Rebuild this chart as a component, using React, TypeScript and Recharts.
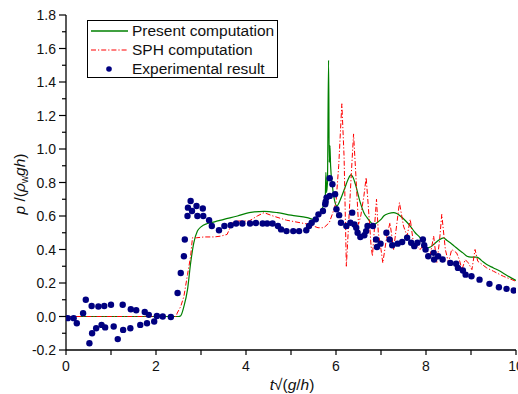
import React from 'react';
import { ComposedChart, Line, Scatter, XAxis, YAxis, Legend } from 'recharts';

const FONT = '"Liberation Sans", Arial, sans-serif';

const presentT = [0, 2.5, 2.55, 2.62, 2.7, 2.77, 2.84, 2.92, 3.0, 3.14, 3.3, 3.51, 3.81, 4.07, 4.4, 4.7, 5.0, 5.36, 5.51, 5.6, 5.68, 5.76, 5.775, 5.79, 5.81, 5.835, 5.85, 5.865, 5.88, 5.92, 5.97, 6.02, 6.1, 6.2, 6.27, 6.33, 6.38, 6.43, 6.54, 6.62, 6.69, 6.78, 6.85, 6.91, 7.0, 7.06, 7.17, 7.28, 7.35, 7.43, 7.55, 7.65, 7.76, 7.87, 7.95, 8.02, 8.1, 8.17, 8.28, 8.39, 8.46, 8.54, 8.63, 8.72, 8.82, 8.91, 9.0, 9.13, 9.23, 9.35, 9.5, 9.65, 9.8, 10.0];
const presentP = [0, 0, 0.005, 0.06, 0.16, 0.32, 0.44, 0.51, 0.535, 0.555, 0.565, 0.58, 0.6, 0.62, 0.628, 0.62, 0.605, 0.59, 0.58, 0.6, 0.64, 0.69, 0.86, 0.74, 0.8, 1.53, 0.92, 1.02, 0.9, 0.78, 0.69, 0.66, 0.7, 0.77, 0.82, 0.845, 0.83, 0.79, 0.68, 0.62, 0.59, 0.56, 0.55, 0.56, 0.58, 0.6, 0.615, 0.62, 0.615, 0.6, 0.57, 0.54, 0.5, 0.47, 0.435, 0.41, 0.415, 0.43, 0.455, 0.47, 0.455, 0.44, 0.42, 0.4, 0.38, 0.36, 0.355, 0.355, 0.335, 0.31, 0.29, 0.27, 0.245, 0.215];

const sphT = [0, 2.45, 2.47, 2.55, 2.62, 2.7, 2.77, 2.81, 2.9, 3.07, 3.3, 3.44, 3.58, 3.63, 3.68, 3.81, 4.07, 4.25, 4.4, 4.6, 4.9, 5.2, 5.4, 5.6, 5.73, 5.85, 5.93, 6.0, 6.06, 6.13, 6.18, 6.23, 6.28, 6.34, 6.39, 6.44, 6.5, 6.55, 6.62, 6.67, 6.72, 6.78, 6.81, 6.86, 6.9, 6.94, 7.0, 7.04, 7.13, 7.2, 7.28, 7.35, 7.41, 7.5, 7.58, 7.65, 7.72, 7.8, 7.87, 7.95, 8.02, 8.09, 8.17, 8.24, 8.3, 8.35, 8.43, 8.5, 8.57, 8.68, 8.74, 8.8, 8.87, 8.94, 9.02, 9.09, 9.15, 9.2, 9.35, 9.5, 9.72, 10.0];
const sphP = [0, 0, 0.02, 0.06, 0.12, 0.25, 0.36, 0.47, 0.47, 0.475, 0.475, 0.48, 0.49, 0.52, 0.56, 0.57, 0.57, 0.6, 0.62, 0.6, 0.575, 0.56, 0.55, 0.53, 0.53, 0.56, 0.62, 0.68, 0.9, 1.27, 0.95, 0.3, 0.55, 0.85, 1.09, 0.85, 0.55, 0.6, 0.72, 0.83, 0.65, 0.42, 0.36, 0.55, 0.7, 0.5, 0.4, 0.32, 0.48, 0.56, 0.4, 0.55, 0.68, 0.54, 0.48, 0.58, 0.44, 0.42, 0.4, 0.43, 0.4, 0.36, 0.48, 0.32, 0.45, 0.61, 0.4, 0.32, 0.4, 0.38, 0.34, 0.28, 0.34, 0.32, 0.28, 0.4, 0.33, 0.32, 0.29, 0.27, 0.24, 0.21];

const expT = [0.04, 0.17, 0.24, 0.38, 0.44, 0.52, 0.57, 0.58, 0.67, 0.72, 0.79, 0.85, 0.87, 1.0, 1.06, 1.15, 1.26, 1.27, 1.43, 1.44, 1.56, 1.65, 1.75, 1.8, 1.84, 1.96, 2.02, 2.15, 2.33, 2.48, 2.55, 2.62, 2.64, 2.7, 2.71, 2.77, 2.8, 2.9, 2.92, 3.04, 3.05, 3.18, 3.24, 3.4, 3.52, 3.66, 3.78, 3.92, 4.09, 4.22, 4.37, 4.47, 4.59, 4.71, 4.78, 4.9, 5.05, 5.18, 5.34, 5.4, 5.46, 5.55, 5.61, 5.71, 5.76, 5.77, 5.79, 5.86, 5.86, 5.92, 5.98, 6.01, 6.07, 6.11, 6.23, 6.32, 6.36, 6.41, 6.45, 6.48, 6.54, 6.63, 6.67, 6.7, 6.82, 6.89, 6.91, 6.99, 7.12, 7.19, 7.25, 7.37, 7.47, 7.58, 7.67, 7.74, 7.81, 7.93, 7.96, 7.99, 8.05, 8.17, 8.18, 8.27, 8.37, 8.54, 8.67, 8.71, 8.82, 8.88, 9.01, 9.19, 9.41, 9.62, 9.79, 9.95];
const expP = [-0.01, -0.01, -0.04, 0.02, 0.1, -0.16, 0.063, -0.1, -0.07, 0.06, -0.05, 0.063, -0.065, 0.07, -0.06, -0.135, 0.07, -0.08, -0.07, 0.043, 0.037, -0.05, 0.027, -0.04, 0.01, -0.03, 0.003, 0.0, -0.003, 0.14, 0.26, 0.36, 0.46, 0.6, 0.65, 0.69, 0.63, 0.66, 0.6, 0.645, 0.6, 0.575, 0.54, 0.515, 0.54, 0.545, 0.555, 0.555, 0.555, 0.558, 0.555, 0.555, 0.555, 0.54, 0.52, 0.51, 0.51, 0.51, 0.515, 0.54, 0.56, 0.58, 0.61, 0.63, 0.67, 0.685, 0.71, 0.72, 0.825, 0.79, 0.73, 0.64, 0.605, 0.56, 0.54, 0.56, 0.62, 0.55, 0.53, 0.5, 0.475, 0.485, 0.51, 0.54, 0.54, 0.46, 0.415, 0.435, 0.5, 0.46, 0.425, 0.435, 0.445, 0.47, 0.44, 0.42, 0.44, 0.46, 0.425, 0.4, 0.36, 0.38, 0.34, 0.36, 0.34, 0.32, 0.315, 0.29, 0.275, 0.25, 0.24, 0.22, 0.195, 0.175, 0.165, 0.155];

const xTicks = [0, 1, 2, 3, 4, 5, 6, 7, 8, 9, 10];
const yTicks = [-0.2, -0.1, 0, 0.1, 0.2, 0.3, 0.4, 0.5, 0.6, 0.7, 0.8, 0.9, 1.0, 1.1, 1.2, 1.3, 1.4, 1.5, 1.6, 1.7, 1.8];

const legendLabels = ['Present computation', 'SPH computation', 'Experimental result'];

const GREEN = '#008000';
const RED = '#ff0000';
const NAVY = '#000080';
const SPH_DASH = '5 2 1.2 2';

const zip = (ts: number[], ps: number[]) => ts.map((t, i) => ({ t, p: ps[i] }));
const presentData = zip(presentT, presentP);
const sphData = zip(sphT, sphP);
const expData = zip(expT, expP);

const XTick = (props: any) => {
  const { x, y, payload } = props;
  const v = Math.round(payload.value);
  const major = v % 2 === 0;
  return (
    <g>
      <line x1={x} x2={x} y1={y} y2={y + 5} stroke="#000" strokeWidth={1.2} />
      {major && (
        <text x={x} y={y + 21} textAnchor="middle" fontSize={14} fill="#111" fontFamily={FONT}>
          {v}
        </text>
      )}
    </g>
  );
};

const YTick = (props: any) => {
  const { x, y, payload } = props;
  const k = Math.round(payload.value * 10);
  const major = k % 2 === 0;
  return (
    <g>
      <line x1={x - (major ? 7 : 4)} x2={x} y1={y} y2={y} stroke="#000" strokeWidth={1.2} />
      {major && (
        <text x={x - 10} y={y + 5} textAnchor="end" fontSize={14} fill="#111" fontFamily={FONT}>
          {(k / 10).toFixed(1)}
        </text>
      )}
    </g>
  );
};

const YTitle = () => (
  <text
    transform="translate(25,184) rotate(-90)"
    textAnchor="middle"
    fontSize={15.5}
    fill="#111"
    fontFamily={FONT}
  >
    <tspan fontStyle="italic">p</tspan>
    <tspan> /(</tspan>
    <tspan fontStyle="italic">ρ</tspan>
    <tspan fontSize={10} dy={3}>w</tspan>
    <tspan fontStyle="italic" dy={-3}>gh</tspan>
    <tspan>)</tspan>
  </text>
);

const XTitle = () => (
  <text x={292} y={390} textAnchor="middle" fontSize={15.5} fill="#111" fontFamily={FONT}>
    <tspan fontStyle="italic">t</tspan>
    <tspan>√(</tspan>
    <tspan fontStyle="italic">g</tspan>
    <tspan>/</tspan>
    <tspan fontStyle="italic">h</tspan>
    <tspan>)</tspan>
  </text>
);

const LegendBox = () => (
  <div
    style={{
      position: 'relative',
      width: 189,
      height: 56,
      border: '1px solid #000',
      background: '#fff',
      fontFamily: FONT,
      fontSize: 15.5,
      color: '#111',
    }}
  >
    {legendLabels.map((label, i) => {
      const cy = 10 + i * 18.8;
      return (
        <div key={label} style={{ position: 'absolute', left: 0, top: cy - 9, height: 18, width: 189 }}>
          <svg width={44} height={18} style={{ position: 'absolute', left: 0, top: 0 }}>
            {i === 0 && <line x1={3} x2={40} y1={9} y2={9} stroke={GREEN} strokeWidth={1.3} />}
            {i === 1 && (
              <line x1={3} x2={40} y1={9} y2={9} stroke={RED} strokeWidth={1.1} strokeDasharray={SPH_DASH} />
            )}
            {i === 2 && <circle cx={21} cy={9} r={2.8} fill={NAVY} />}
          </svg>
          <span style={{ position: 'absolute', left: 44, top: 0, lineHeight: '18px', whiteSpace: 'nowrap' }}>
            {label}
          </span>
        </div>
      );
    })}
  </div>
);

const Dot = (props: any) => {
  const { cx, cy } = props;
  return <circle cx={cx} cy={cy} r={3.2} fill={NAVY} />;
};

export default function App() {
  return (
    <div style={{ position: 'absolute', left: 0, top: 0, width: 518, height: 394, background: '#fff' }}>
      <ComposedChart width={518} height={394} margin={{ top: 15, right: 2, bottom: 0, left: 0 }}>
        <XAxis
          type="number"
          dataKey="t"
          domain={[0, 10]}
          ticks={xTicks}
          interval={0}
          height={44}
          tickSize={0}
          tickMargin={0}
          tickLine={false}
          tick={<XTick />}
          axisLine={{ stroke: '#000', strokeWidth: 1.3 }}
          allowDataOverflow
          label={<XTitle />}
        />
        <YAxis
          type="number"
          dataKey="p"
          domain={[-0.2, 1.8]}
          ticks={yTicks}
          interval={0}
          width={66}
          tickSize={0}
          tickMargin={0}
          tickLine={false}
          tick={<YTick />}
          axisLine={{ stroke: '#000', strokeWidth: 1.3 }}
          allowDataOverflow
          label={<YTitle />}
        />
        <Legend
          layout="vertical"
          align="center"
          verticalAlign="middle"
          wrapperStyle={{ position: 'absolute', left: 87, top: 20, width: 'auto', height: 'auto' }}
          content={<LegendBox />}
        />
        <Line
          data={presentData}
          dataKey="p"
          type="monotone"
          stroke={GREEN}
          strokeWidth={1.2}
          dot={false}
          activeDot={false}
          isAnimationActive={false}
        />
        <Line
          data={sphData}
          dataKey="p"
          type="linear"
          stroke={RED}
          strokeWidth={1}
          strokeDasharray={SPH_DASH}
          dot={false}
          activeDot={false}
          isAnimationActive={false}
        />
        <Scatter data={expData} dataKey="p" fill={NAVY} shape={<Dot />} isAnimationActive={false} />
      </ComposedChart>
    </div>
  );
}
